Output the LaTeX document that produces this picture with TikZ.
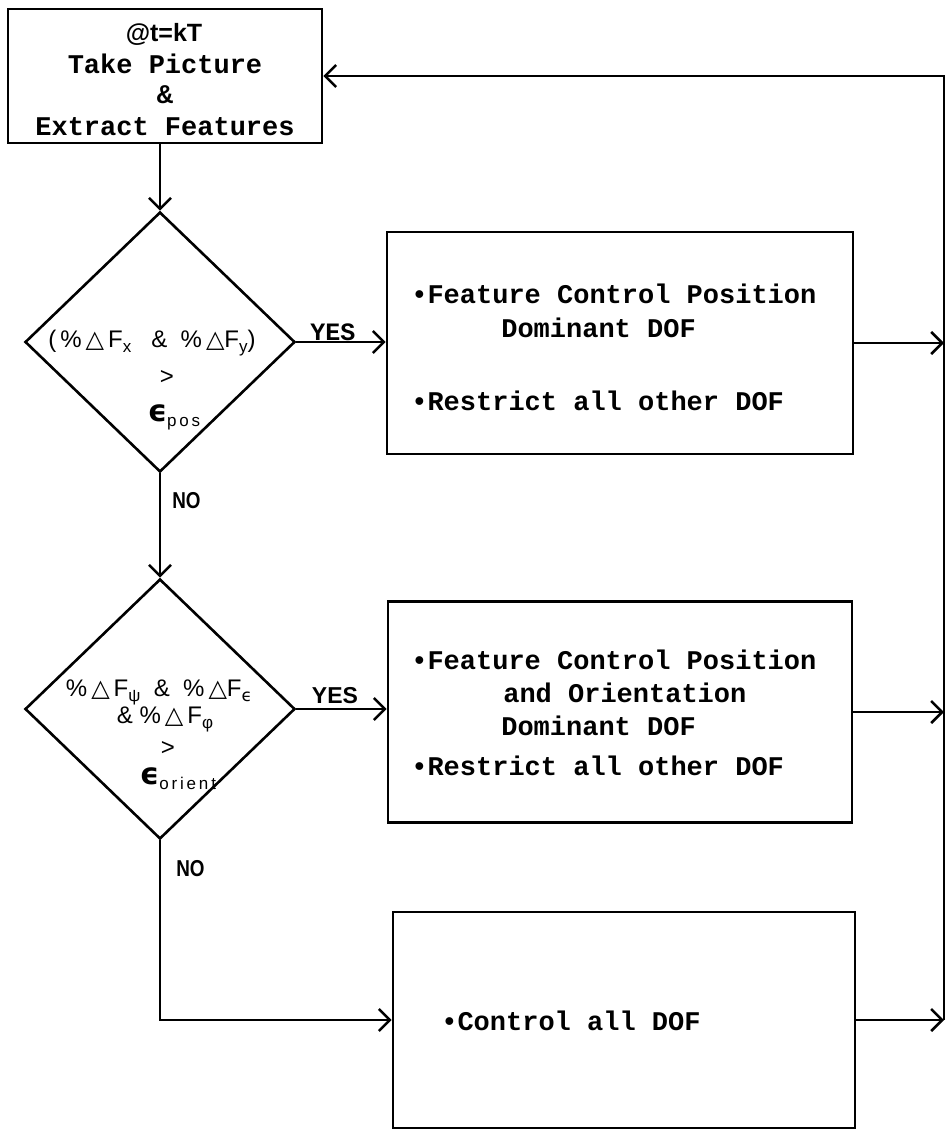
\documentclass[tikz,border=0pt]{standalone}
\usepackage{fontspec}
\usepackage{graphicx}
\usetikzlibrary{shapes.geometric,arrows.meta}
% typewriter face for the boxes, sans face for the conditions
\newfontfamily\cwfont{Liberation Mono}
\newfontfamily\plotfont{Liberation Sans}
\newfontfamily\narrowfont{Liberation Sans}[FakeStretch=0.82]
\newfontfamily\symfont{DejaVu Sans}
\newcommand{\lowidx}[1]{\raisebox{-0.45ex}{\fontsize{17}{17}\selectfont #1}}
\newcommand{\tri}{{\symfont △}}
\newcommand{\epsb}{{\symfont\bfseries\fontsize{30}{30}\selectfont ϵ}}
\begin{document}
\begin{tikzpicture}[x=1pt,y=-1pt,line width=2.6pt,
  box/.style={draw,rectangle,inner sep=0pt},
  decision/.style={draw,diamond,inner sep=0pt,minimum width=270pt,minimum height=260pt},
  cw/.style={font=\cwfont\bfseries\fontsize{27}{32}\selectfont,inner sep=0pt,anchor=base west},
  cwc/.style={cw,anchor=base},
  pf/.style={font=\plotfont\fontsize{24}{28}\selectfont,inner sep=0pt,anchor=base},
  lbl/.style={font=\narrowfont\bfseries\fontsize{23}{28}\selectfont,inner sep=0pt,anchor=base west},
  flow/.style={-{Straight Barb[length=11pt,width=22pt]}}]
\useasboundingbox (0,0) rectangle (949,1136);

% process boxes
\node[box,minimum width=314pt,minimum height=134pt] (top) at (165,76) {};
\node[box,minimum width=466pt,minimum height=222pt] (b1) at (620,343) {};
\node[box,minimum width=464pt,minimum height=221pt] (b2) at (620,712) {};
\node[box,minimum width=462pt,minimum height=216pt] (b3) at (624,1020) {};

% decisions
\node[decision] (d1) at (160,342) {};
\node[decision] (d2) at (160,709) {};

% box texts
\node[pf,font=\plotfont\bfseries\fontsize{25}{28}\selectfont] (t0) at (164,41) {@t=kT};
\node[cwc] (t1) at (165,73) {Take Picture};
\node[cwc] (t2) at (165,103) {\&};
\node[cwc] (t3) at (165,135) {Extract Features};

\node[cw] (b1a) at (410,303) {•Feature Control Position};
\node[cw] (b1b) at (500,337) {Dominant DOF};
\node[cw] (b1c) at (410,410) {•Restrict all other DOF};

\node[cw] (b2a) at (410,669) {•Feature Control Position};
\node[cw] (b2b) at (502,702) {and Orientation};
\node[cw] (b2c) at (500,735) {Dominant DOF};
\node[cw] (b2d) at (410,775) {•Restrict all other DOF};

\node[cw] (b3a) at (440,1030) {•Control all DOF};

% condition texts
\node[pf] (c1a) at (152,347) {(\,\%\,\tri\,F\lowidx{x} \ \ \&\ \ \%\,\tri F\lowidx{y})};
\node[pf] (c1b) at (167,384) {>};
\node[pf] (c1c) at (174,421) {\epsb\lowidx{p\,o\,s}};

\node[pf] (c2a) at (159,696) {\%\,\tri\,F\lowidx{ψ} \ \& \ \%\,\tri F\lowidx{\symfont ϵ}};
\node[pf] (c2b) at (165,723) {\& \%\,\tri\,F\lowidx{φ}};
\node[pf] (c2c) at (168,755) {>};
\node[pf] (c2d) at (178,784) {\epsb\lowidx{o\,r\,i\,e\,n\,t}};

% branch labels
\node[cwc,font=\cwfont\bfseries\fontsize{25}{30}\selectfont] (yes1) at (333,340) {YES};
\node[pf,font=\plotfont\bfseries\fontsize{23}{28}\selectfont] (yes2) at (335,703) {YES};
\node[lbl] (no1) at (171,508) {NO};
\node[lbl] (no2) at (175,876) {NO};

% connectors
\coordinate (rail) at (944,1020);
\draw[flow] (top.south -| d1.north) -- (d1.north);
\draw[flow] (d1.east) -- (d1.east -| b1.west);
\draw[flow] (d1.south) -- (d2.north);
\draw[flow] (d2.east) -- (d2.east -| b2.west);
\draw[flow] (d2.south) |- (b3.west);
\draw[flow] (b1.east) -- (b1.east -| rail);
\draw[flow] (b2.east) -- (b2.east -| rail);
\draw[flow] (b3.east) -- (rail);
\draw[flow] (rail) -- (rail |- top.east) -- (top.east);
\end{tikzpicture}
\end{document}
